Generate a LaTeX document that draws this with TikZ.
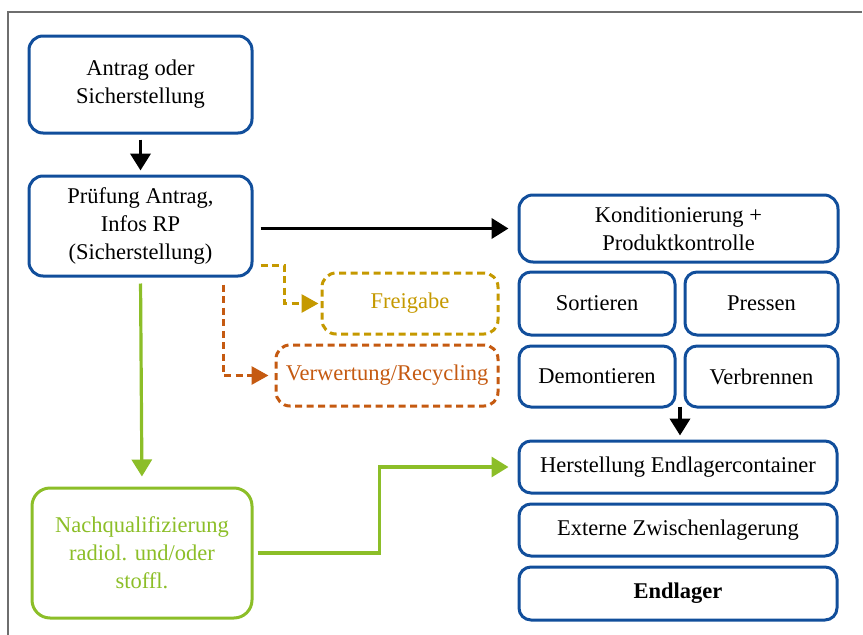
\documentclass[tikz,border=0pt]{standalone}
\usepackage{fontspec}
\setmainfont{Liberation Serif}
\usetikzlibrary{arrows.meta,calc}
\definecolor{bblue}{RGB}{17,78,155}
\definecolor{ggold}{RGB}{197,153,0}
\definecolor{oorange}{RGB}{197,90,17}
\definecolor{ggreen}{RGB}{140,190,40}
\definecolor{frame}{RGB}{110,110,110}
\tikzset{
  box/.style={draw=bblue, line width=3pt, rounded corners=14pt, align=center,
    inner sep=0pt, font=\fontsize{22.5}{28}\selectfont, text=black},
  dbox/.style={box, dash pattern=on 7pt off 4.5pt, line width=3pt},
  arr/.style={line width=3.8pt, -{Triangle[length=17pt,width=20pt]}},
  darr/.style={line width=3pt, dash pattern=on 7pt off 4.5pt, -{Triangle[length=17pt,width=18pt]}},
}
\begin{document}
\begin{tikzpicture}[x=1pt,y=-1pt]
\useasboundingbox (0,0) rectangle (863,635);
\draw[frame, line width=1.5pt] (8,635) -- (8,12) -- (862,12);

\node[box, minimum width=223pt, minimum height=97pt] (ant) at (140.5,84.5) {Antrag oder\\Sicherstellung};
\node[box, minimum width=223pt, minimum height=100pt] (prf) at (140.5,226) {Prüfung Antrag,\\Infos RP\\(Sicherstellung)};
\node[box, minimum width=319pt, minimum height=67pt] (kon) at (678.5,228.5) {Konditionierung +\\Produktkontrolle};
\node[box, rounded corners=12pt, minimum width=156pt, minimum height=63pt] (sor) at (597,303.5) {Sortieren};
\node[box, rounded corners=12pt, minimum width=153pt, minimum height=63pt] (pre) at (761.5,303.5) {Pressen};
\node[box, rounded corners=12pt, minimum width=156pt, minimum height=61pt] (dem) at (597,376.5) {Demontieren};
\node[box, rounded corners=12pt, minimum width=153pt, minimum height=61pt] (ver) at (761.5,376.5) {Verbrennen};
\node[box, rounded corners=12pt, minimum width=318pt, minimum height=52pt] (her) at (678,467) {Herstellung Endlagercontainer};
\node[box, rounded corners=12pt, minimum width=318pt, minimum height=52pt] (ext) at (678,530) {Externe Zwischenlagerung};
\node[box, rounded corners=12pt, minimum width=318pt, minimum height=53pt] (end) at (678,593.5) {\bfseries Endlager};
\node[dbox, draw=ggold, text=ggold, minimum width=176pt, minimum height=61pt] (fre) at (410,303.5) {Freigabe};
\node[dbox, draw=oorange, text=oorange, minimum width=222pt, minimum height=61pt] (vwr) at (387,375.5) {Verwertung/Recycling};
\node[box, draw=ggreen, text=ggreen, rounded corners=18pt, minimum width=220pt, minimum height=130pt] (nq) at (142,553) {Nachqualifizierung\\radiol. und/oder\\stoffl.};

\draw[arr, shorten <=5pt, shorten >=4pt] (ant.south) -- (prf.north);
\draw[arr, shorten <=7pt, shorten >=9pt] (prf.east |- kon.west) -- (kon.west);
\coordinate (mid) at ($(dem.south east)!0.5!(ver.south west)$);
\draw[arr, shorten >=4pt] ($(mid)+(0,-2)$) -- (mid |- her.north);

\draw[darr, ggold, shorten >=2pt] ($(prf.south east)+(7,-12)$) -| ($(fre.west)+(-36,0)$) -- (fre.west);
\draw[darr, oorange, shorten >=6pt] ($(prf.south)+(82.5,7)$) |- (vwr.west);

\draw[arr, ggreen, line width=3.2pt, shorten <=6pt, shorten >=10pt] (prf.south) -- (nq.north);
\draw[arr, ggreen, line width=3.2pt, shorten <=4pt, shorten >=9pt] (nq.east) -- ++(126,0) |- (her.west);
\end{tikzpicture}
\end{document}
